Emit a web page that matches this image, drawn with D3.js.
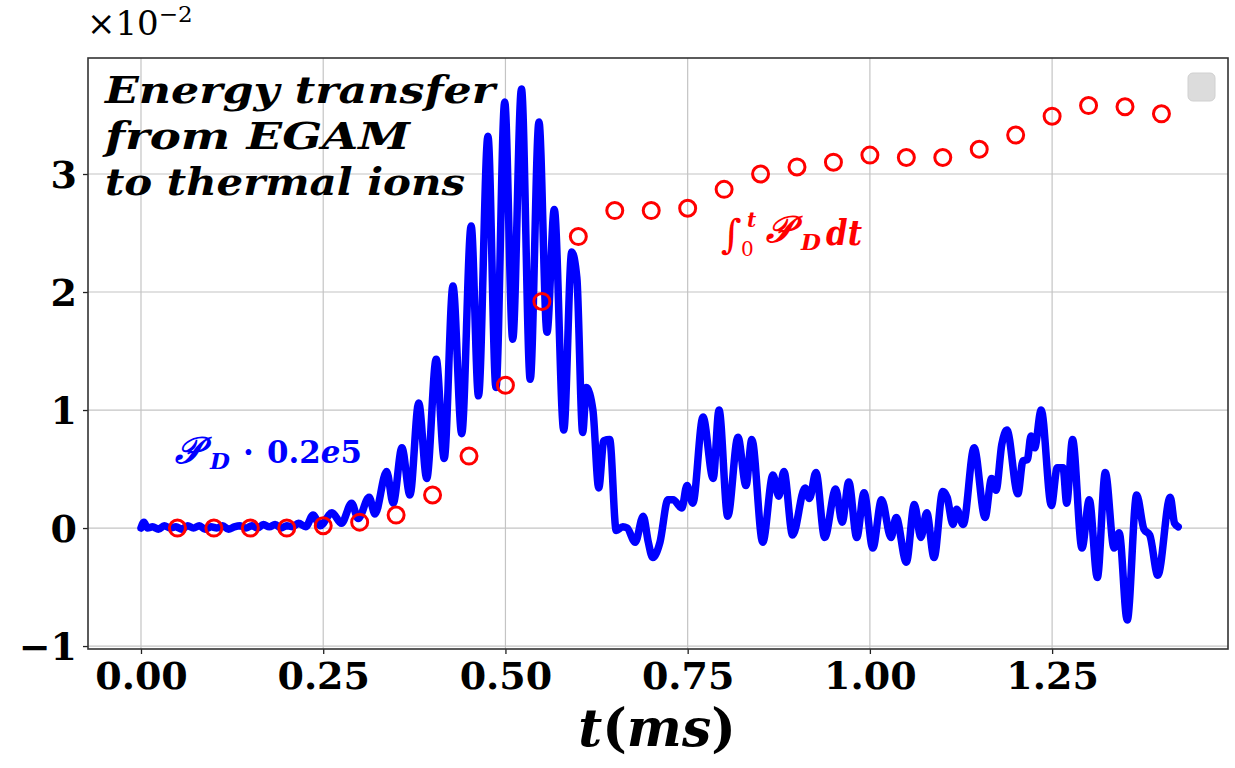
<!DOCTYPE html>
<html><head><meta charset="utf-8">
<script src="https://cdn.jsdelivr.net/npm/d3@7"></script>
<style>
body{margin:0;background:#fff;}
svg{display:block;}
</style></head><body>
<svg id="chart" width="1235" height="768"></svg>
<script>
// ---- data ----
const xTicks = [0, 0.25, 0.5, 0.75, 1.0, 1.25];
const yTicks = [-1, 0, 1, 2, 3];
const xDomain = [-0.0727, 1.4913];
const yDomain = [-1.025, 3.983];

const blueT = [0.000,0.004,0.009,0.016,0.024,0.032,0.040,0.048,0.056,0.064,0.072,0.080,0.088,0.096,0.104,0.112,0.120,0.128,0.136,0.144,0.152,0.160,0.168,0.176,0.184,0.192,0.200,0.208,0.216,0.226,
0.236,0.246,0.262,0.275,0.289,0.298,0.313,0.321,0.337,0.346,0.358,0.369,0.381,0.392,0.405,0.416,0.428,0.440,0.453,0.463,0.476,0.487,0.499,0.510,0.522,0.534,0.546,0.557,0.567,0.580,0.591,0.598,0.606,0.611,0.620,0.628,0.635,0.643,0.652,0.661,0.667,0.678,0.689,0.696,0.702,0.712,0.723,0.730,0.742,0.749,0.757,0.771,0.785,0.793,0.805,0.819,0.830,0.838,0.853,0.867,0.875,0.882,0.894,0.911,0.917,0.926,0.938,0.953,0.962,0.971,0.982,0.992,1.004,1.016,1.029,1.036,1.050,1.061,1.070,1.078,1.088,1.100,1.106,1.114,1.119,1.128,1.143,1.158,1.167,1.173,1.181,1.188,1.203,1.210,1.216,1.221,1.226,1.235,1.249,1.257,1.265,1.270,1.278,1.291,1.301,1.312,1.323,1.335,1.342,1.353,1.366,1.376,1.384,1.395,1.412,1.418,1.423];
const blueY = [0.00,0.05,0.00,0.01,-0.01,0.02,0.00,0.01,-0.01,0.02,0.00,0.02,-0.01,0.01,0.00,0.02,-0.01,0.01,0.02,0.00,0.02,0.00,0.03,0.01,0.03,0.00,0.02,0.01,0.04,0.01,
0.11,0.02,0.13,0.04,0.21,0.08,0.26,0.12,0.48,0.21,0.68,0.28,1.06,0.42,1.43,0.59,2.05,0.80,2.56,1.12,3.32,1.19,3.61,1.60,3.72,1.26,3.44,1.66,2.70,0.83,2.34,2.12,0.81,1.19,1.00,0.34,0.74,0.75,-0.02,0.01,0.00,-0.12,0.10,-0.12,-0.25,-0.12,0.24,0.24,0.17,0.36,0.21,0.94,0.42,1.00,0.10,0.77,0.36,0.75,-0.12,0.45,0.27,0.48,-0.06,0.34,0.25,0.47,-0.08,0.33,0.05,0.39,-0.08,0.30,-0.17,0.24,-0.08,0.09,-0.29,0.20,-0.08,0.13,-0.25,0.31,0.26,0.03,0.16,0.03,0.68,0.09,0.42,0.32,0.71,0.83,0.29,0.57,0.58,0.78,0.68,1.00,0.19,0.51,0.51,0.21,0.75,-0.17,0.24,-0.42,0.47,-0.17,-0.04,-0.78,0.28,-0.01,-0.06,-0.40,0.26,0.04,0.01];

const redT = [0.05,0.10,0.15,0.20,0.25,0.30,0.35,0.40,0.45,0.50,0.55,0.60,0.65,0.70,0.75,0.80,0.85,0.90,0.95,1.00,1.05,1.10,1.15,1.20,1.25,1.30,1.35,1.40];
const redY = [0.00,0.00,0.00,0.00,0.02,0.05,0.11,0.28,0.61,1.21,1.92,2.47,2.69,2.69,2.71,2.87,3.00,3.06,3.10,3.16,3.14,3.14,3.21,3.33,3.49,3.58,3.57,3.51];

// ---- layout ----
const L = 88, R = 1228, T = 58, B = 649;
const svg = d3.select('#chart');
const x = d3.scaleLinear().domain(xDomain).range([L, R]);
const y = d3.scaleLinear().domain(yDomain).range([B, T]);

const serif = "'DejaVu Serif', 'Liberation Serif', serif";

// grid
const grid = svg.append('g');
grid.selectAll('.gx').data(xTicks).join('line')
  .attr('x1', d => x(d)).attr('x2', d => x(d)).attr('y1', T).attr('y2', B)
  .attr('stroke', '#c4c4c4').attr('stroke-width', 1.2);
grid.selectAll('.gy').data(yTicks).join('line')
  .attr('y1', d => y(d)).attr('y2', d => y(d)).attr('x1', L).attr('x2', R)
  .attr('stroke', '#c4c4c4').attr('stroke-width', 1.2);

// axes
const xAxis = svg.append('g').attr('transform', `translate(0,${B})`)
  .call(d3.axisBottom(x).tickValues(xTicks).tickFormat(d3.format('.2f')).tickSize(5).tickPadding(8));
const yAxis = svg.append('g').attr('transform', `translate(${L},0)`)
  .call(d3.axisLeft(y).tickValues(yTicks).tickFormat(d3.format('d')).tickSize(5).tickPadding(6));
[xAxis, yAxis].forEach(a => {
  a.select('.domain').remove();
  a.selectAll('.tick line').attr('stroke', '#222').attr('stroke-width', 1.3);
  a.selectAll('.tick text').attr('fill', '#000')
    .style('font-family', serif).style('font-weight', 'bold').style('font-size', '38px');
});
yAxis.selectAll('.tick text').attr('dy', '0.36em');
xAxis.selectAll('.tick text').attr('dy', '0.72em');

// frame
svg.append('rect').attr('x', L).attr('y', T).attr('width', R - L).attr('height', B - T)
  .attr('fill', 'none').attr('stroke', '#333').attr('stroke-width', 1.6);

// blue line
const blueData = blueT.map((t, i) => [t, blueY[i]]);
svg.append('path').datum(blueData)
  .attr('d', d3.line().x(d => x(d[0])).y(d => y(d[1])).curve(d3.curveMonotoneX))
  .attr('fill', 'none').attr('stroke', '#0000ff').attr('stroke-width', 7.5)
  .attr('stroke-linejoin', 'round').attr('stroke-linecap', 'round');

// red circles
const redData = redT.map((t, i) => [t, redY[i]]);
svg.append('g').selectAll('circle').data(redData).join('circle')
  .attr('cx', d => x(d[0])).attr('cy', d => y(d[1])).attr('r', 8)
  .attr('fill', 'none').attr('stroke', '#ff0000').attr('stroke-width', 3);

// empty legend box
svg.append('rect').attr('x', 1188).attr('y', 73).attr('width', 27).attr('height', 28).attr('rx', 5)
  .attr('fill', '#dcdcdc').attr('stroke', '#d0d0d0');

// offset text
const off = svg.append('text').attr('x', 87).attr('y', 35)
  .style('font-family', serif).style('font-size', '34px').attr('fill', '#000');
off.append('tspan').text('×10');
off.append('tspan').attr('dy', -13).style('font-size', '23px').text('−2');

// annotation
const ann = ['Energy transfer', 'from EGAM', 'to thermal ions'];
const annW = [390, 305, 360];
const annBase = [103, 149, 195];
svg.append('g').selectAll('text').data(ann).join('text')
  .attr('x', 105).attr('y', (d, i) => annBase[i])
  .attr('textLength', (d, i) => annW[i]).attr('lengthAdjust', 'spacingAndGlyphs')
  .style('font-family', serif).style('font-weight', 'bold').style('font-style', 'italic')
  .style('font-size', '38px').attr('fill', '#000').text(d => d);

// blue label
const blue = '#0000ff';
svg.append('text').attr('x', 175).attr('y', 463).attr('fill', blue)
  .style('font-family', serif).style('font-style', 'italic').style('font-weight', 'bold').style('font-size', '37px').text('𝒫');
svg.append('text').attr('x', 210).attr('y', 469).attr('fill', blue)
  .style('font-family', serif).style('font-style', 'italic').style('font-weight', 'bold').style('font-size', '23px').text('D');
svg.append('text').attr('x', 243).attr('y', 463).attr('fill', blue)
  .style('font-family', serif).style('font-weight', 'bold').style('font-size', '31px').text('·');
const bnum = svg.append('text').attr('x', 267).attr('y', 463).attr('fill', blue)
  .attr('textLength', 95).attr('lengthAdjust', 'spacingAndGlyphs')
  .style('font-family', serif).style('font-weight', 'bold').style('font-size', '31px');
bnum.append('tspan').text('0.2');
bnum.append('tspan').style('font-style', 'italic').text('e');
bnum.append('tspan').text('5');

// red label
const red = '#ff0000';
svg.append('text').attr('x', 721).attr('y', 248).attr('fill', red)
  .style('font-family', serif).style('font-size', '40px').text('∫');
svg.append('text').attr('x', 741).attr('y', 256).attr('fill', red)
  .style('font-family', serif).style('font-size', '20px').text('0');
svg.append('text').attr('x', 747).attr('y', 227).attr('fill', red)
  .style('font-family', serif).style('font-weight', 'bold').style('font-style', 'italic').style('font-size', '20px').text('t');
svg.append('text').attr('x', 766).attr('y', 242).attr('fill', red)
  .style('font-family', serif).style('font-style', 'italic').style('font-weight', 'bold').style('font-size', '37px').text('𝒫');
svg.append('text').attr('x', 801).attr('y', 250).attr('fill', red)
  .style('font-family', serif).style('font-style', 'italic').style('font-weight', 'bold').style('font-size', '23px').text('D');
svg.append('text').attr('x', 826).attr('y', 245).attr('fill', red)
  .attr('textLength', 36).attr('lengthAdjust', 'spacingAndGlyphs')
  .style('font-family', serif).style('font-style', 'italic').style('font-weight', 'bold').style('font-size', '36px').text('dt');

// x label
const xl = svg.append('text').attr('x', 657).attr('y', 746).attr('text-anchor', 'middle')
  .style('font-family', serif).style('font-weight', 'bold').style('font-size', '52px').attr('fill', '#000');
xl.append('tspan').style('font-style', 'italic').text('t');
xl.append('tspan').text('(');
xl.append('tspan').style('font-style', 'italic').text('ms');
xl.append('tspan').text(')');
</script>
</body></html>
